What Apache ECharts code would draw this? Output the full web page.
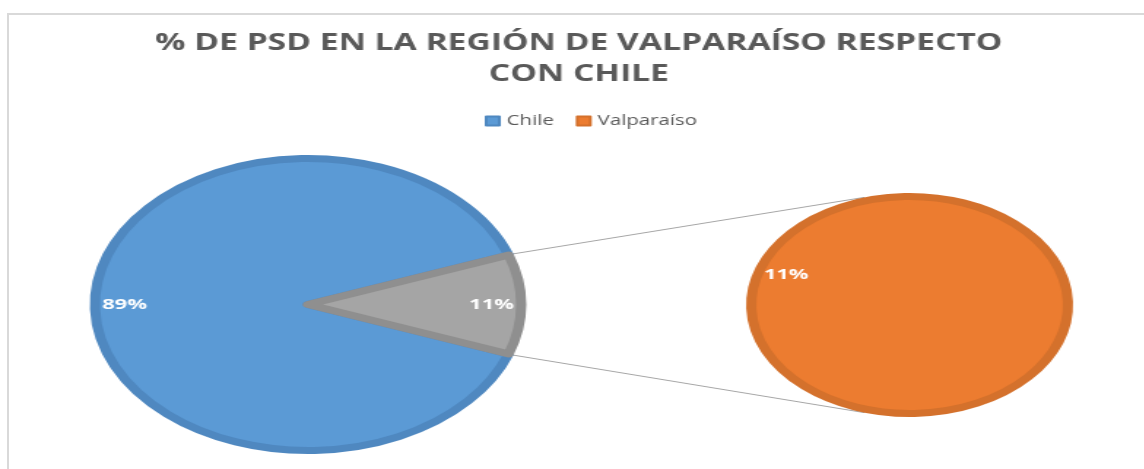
<!DOCTYPE html>
<html>
<head>
<meta charset="utf-8">
<script src="https://cdn.jsdelivr.net/npm/echarts@6/dist/echarts.min.js"></script>
<style>
html, body { margin: 0; padding: 0; background: #fff; overflow: hidden; }
#wrap { position: relative; width: 1144px; height: 469px; overflow: hidden; }
/* the source picture is stretched sideways, so the chart is too */
#chart { position: absolute; left: 0; top: 0; width: 793px; height: 469px; transform: scaleX(1.46); transform-origin: 0 0; }
#frame { position: absolute; left: 7px; top: 13px; right: -10px; bottom: -10px; border-top: 2px solid #d9d9d9; border-left: 2px solid #d9d9d9; pointer-events: none; }
</style>
</head>
<body>
<div id="wrap">
  <div id="chart"></div>
  <div id="frame"></div>
</div>
<script>
const titleText = '% DE PSD EN LA REGIÓN DE VALPARAÍSO RESPECTO\nCON CHILE'
const legendNames = ['Chile', 'Valparaíso']
const chileShare = 89
const regionShare = 11
const otherName = 'Otro'

const blue = '#5b9ad5', blueEdge = '#4f88c0'
const gray = '#a5a5a5', grayEdge = '#8f8f8f'
const orange = '#ec7c30', orangeEdge = '#d4712c'

const leftCenter = [211, 304.5]
const leftR = 146
const rightCenter = [623, 305]
const rightR = 108.5
const edgeW = 7

// split slice sits centred on the right side
const halfAngle = regionShare / (chileShare + regionShare) * 180
const startAngle = 360 - halfAngle

const leftData = [
    { name: legendNames[0], value: chileShare, itemStyle: { color: blue, borderColor: blueEdge } },
    { name: otherName, value: regionShare, itemStyle: { color: gray, borderColor: grayEdge } }
]
const rightData = [
    { name: legendNames[1], value: regionShare, itemStyle: { color: orange, borderColor: orangeEdge } }
]

const rad = d => d * Math.PI / 180
const onEdge = (c, r, deg) => [c[0] + r * Math.cos(rad(deg)), c[1] - r * Math.sin(rad(deg))]

const a1 = onEdge(leftCenter, leftR + edgeW / 2, halfAngle)
const a2 = onEdge(leftCenter, leftR + edgeW / 2, -halfAngle)
const b1 = onEdge(rightCenter, rightR + edgeW / 2, 106)
const b2 = onEdge(rightCenter, rightR + edgeW / 2, -106)

const labelStyle = {
    show: true,
    position: 'inside',
    formatter: '{c}%',
    color: '#fff',
    fontFamily: 'Open Sans',
    fontWeight: 'bold',
    fontSize: 15
}

const chart = echarts.init(document.getElementById('chart'))

chart.setOption({
    animation: false,
    title: {
        text: titleText,
        left: 'center',
        top: 23,
        textStyle: {
            fontFamily: 'Open Sans',
            fontWeight: 'bold',
            fontSize: 23,
            lineHeight: 31,
            color: '#595959'
        }
    },
    legend: {
        data: [
            { name: legendNames[0], itemStyle: { color: blue } },
            { name: legendNames[1], itemStyle: { color: orange } }
        ],
        left: 327,
        top: 109,
        icon: 'rect',
        itemWidth: 9,
        itemHeight: 9,
        itemGap: 15,
        selectedMode: false,
        textStyle: { fontFamily: 'Open Sans', fontSize: 14, color: '#595959' }
    },
    graphic: [
        { type: 'line', z: 1, shape: { x1: a1[0], y1: a1[1], x2: b1[0], y2: b1[1] }, style: { stroke: '#a6a6a6', lineWidth: 1 } },
        { type: 'line', z: 1, shape: { x1: a2[0], y1: a2[1], x2: b2[0], y2: b2[1] }, style: { stroke: '#a6a6a6', lineWidth: 1 } }
    ],
    series: [
        {
            type: 'pie',
            center: leftCenter,
            radius: leftR,
            startAngle: startAngle,
            data: leftData,
            itemStyle: { borderWidth: edgeW },
            label: { show: false },
            labelLine: { show: false },
            emphasis: { disabled: true }
        },
        {
            // clear ring, only carries the labels near the rim
            type: 'pie',
            center: leftCenter,
            radius: [leftR * 0.68, leftR],
            startAngle: startAngle,
            silent: true,
            data: leftData.map(d => ({ name: d.name, value: d.value })),
            itemStyle: { color: 'rgba(0,0,0,0)', borderWidth: 0 },
            label: labelStyle,
            labelLine: { show: false },
            emphasis: { disabled: true }
        },
        {
            type: 'pie',
            center: rightCenter,
            radius: rightR,
            startAngle: startAngle,
            data: rightData,
            itemStyle: { borderWidth: edgeW },
            label: { show: false },
            labelLine: { show: false },
            emphasis: { disabled: true }
        },
        {
            type: 'pie',
            center: rightCenter,
            radius: [rightR * 0.6, rightR],
            startAngle: startAngle,
            silent: true,
            data: rightData.map(d => ({ name: d.name, value: d.value })),
            itemStyle: { color: 'rgba(0,0,0,0)', borderWidth: 0 },
            label: labelStyle,
            labelLine: { show: false },
            emphasis: { disabled: true }
        }
    ]
})
</script>
</body>
</html>
